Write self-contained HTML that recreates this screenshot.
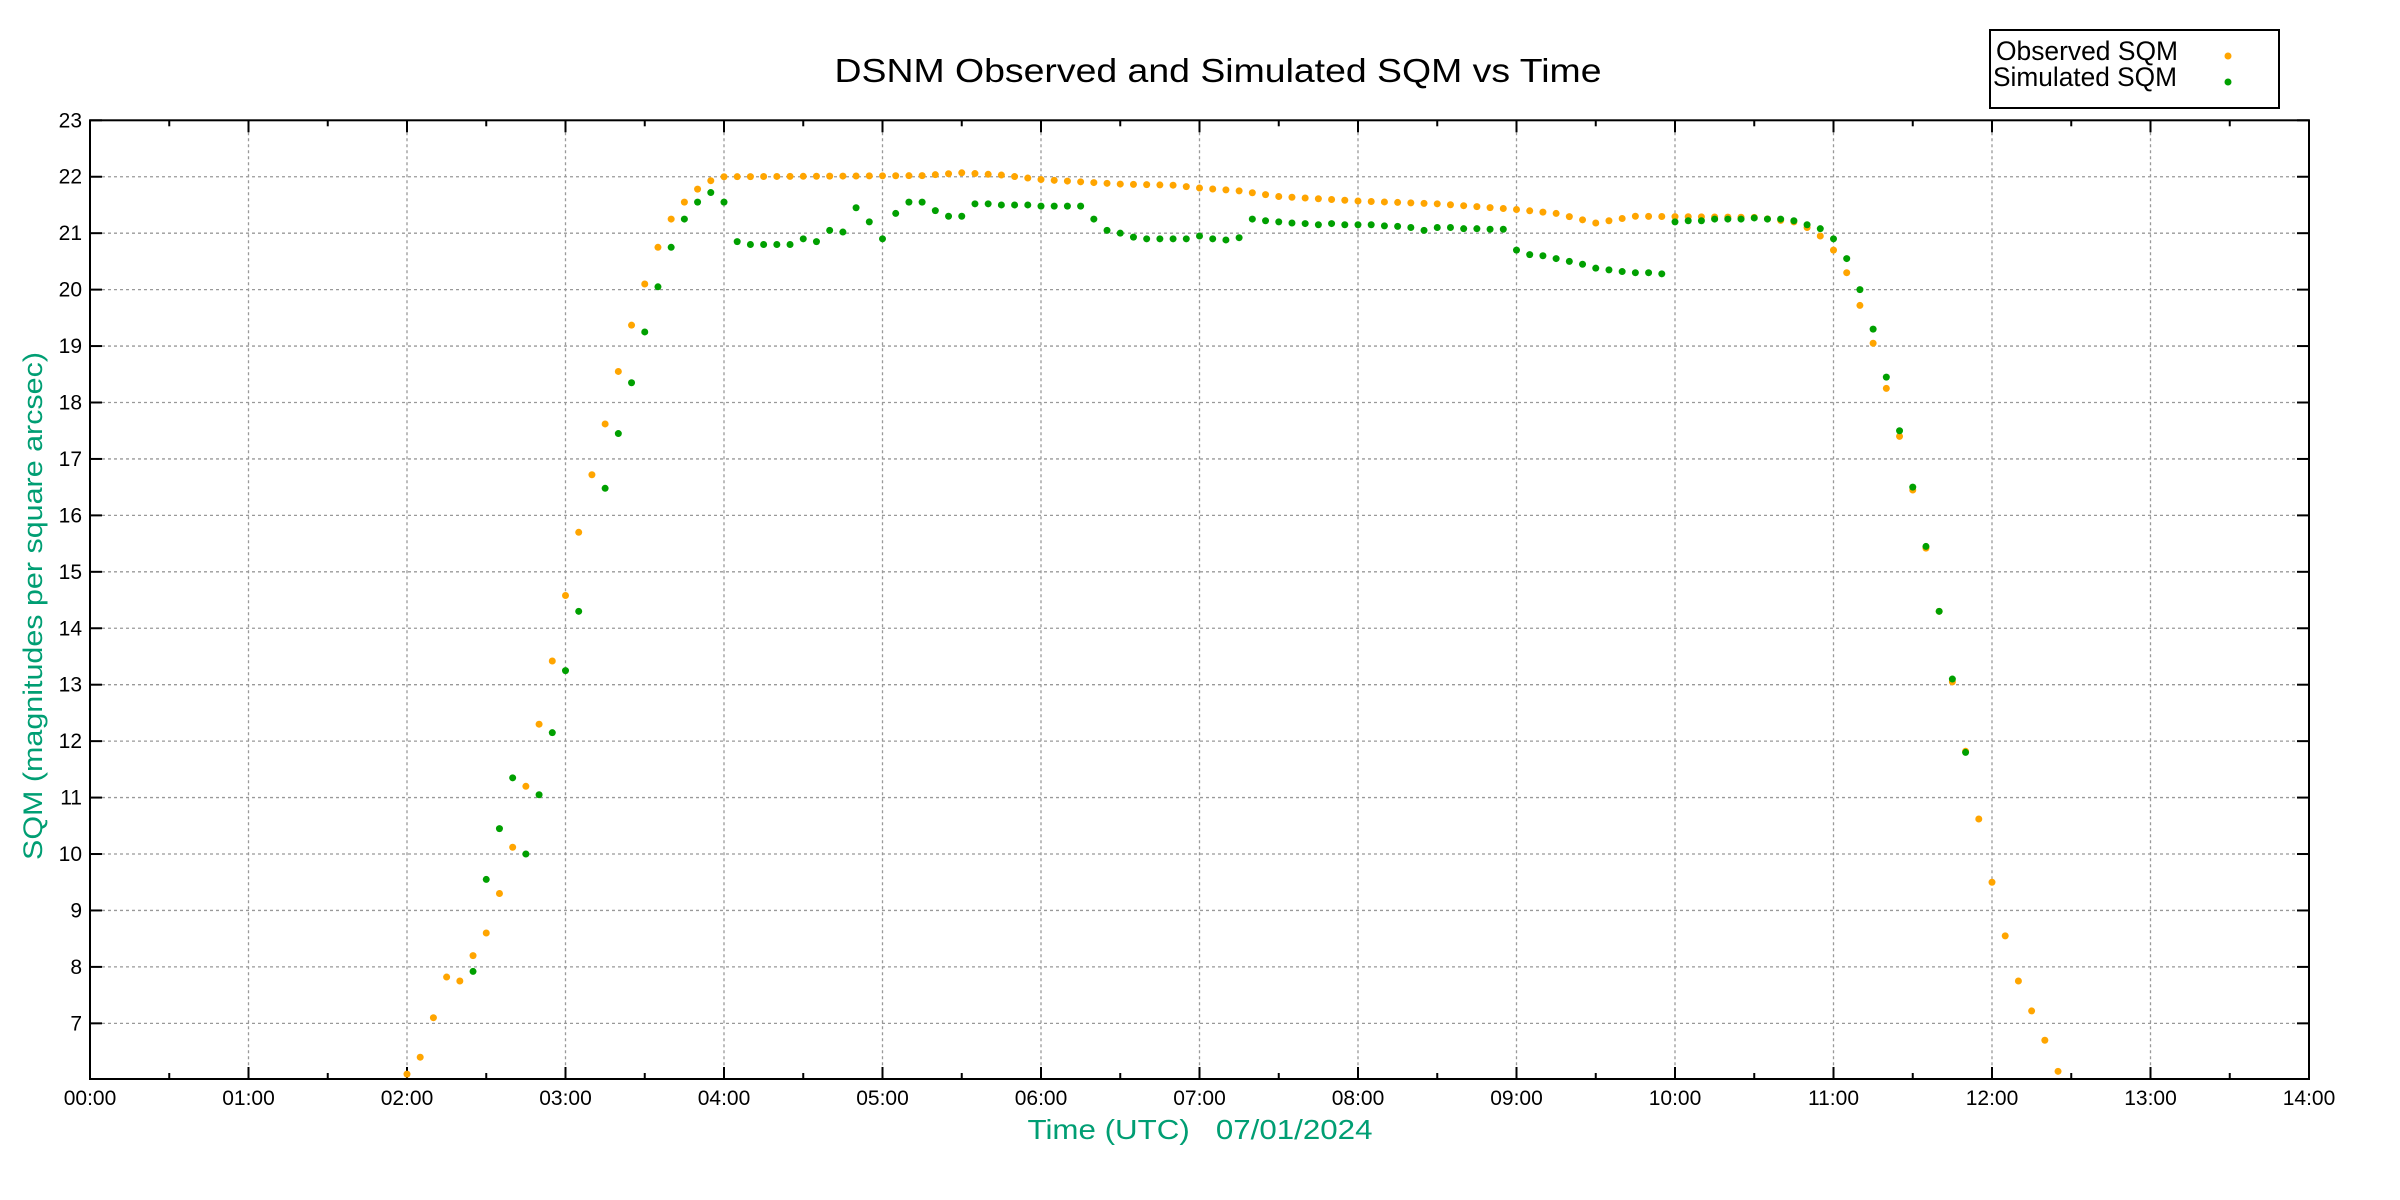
<!DOCTYPE html>
<html><head><meta charset="utf-8"><style>html,body{margin:0;padding:0;background:#fff}svg{display:block}</style></head>
<body>
<svg id="s" width="2400" height="1200" xmlns="http://www.w3.org/2000/svg" font-family="Liberation Sans, sans-serif">
<rect width="2400" height="1200" fill="#fff"/>
<text x="1218" y="82" font-size="33" text-anchor="middle" textLength="767" lengthAdjust="spacingAndGlyphs">DSNM Observed and Simulated SQM vs Time</text>
<g id="grid"></g>
<rect x="90" y="120.3" width="2219" height="958.7" fill="none" stroke="#000" stroke-width="2"/>
<g id="ticks"></g>
<g id="pts"></g>
<text x="1200" y="1139" font-size="28" fill="#009e73" text-anchor="middle" textLength="345" lengthAdjust="spacingAndGlyphs" style="white-space:pre" xml:space="preserve">Time (UTC)   07/01/2024</text>
<text transform="translate(42,606) rotate(-90)" font-size="27" fill="#009e73" text-anchor="middle" textLength="508" lengthAdjust="spacingAndGlyphs">SQM (magnitudes per square arcsec)</text>
<rect x="1990" y="30" width="289" height="78" fill="#fff" stroke="#000" stroke-width="2"/>
<text x="1996" y="60" font-size="26.5" textLength="182" lengthAdjust="spacingAndGlyphs">Observed SQM</text>
<text x="1993" y="86" font-size="26.5" textLength="184" lengthAdjust="spacingAndGlyphs">Simulated SQM</text>
<circle cx="2228" cy="56" r="3.5" fill="#ffa500"/>
<circle cx="2228" cy="82" r="3.5" fill="#00a000"/>
</svg>
<script>
var NS="http://www.w3.org/2000/svg",X0=90,HW=158.5,Y23=120.3,U=56.44,YB=1079;
function X(h){return X0+h*HW}function Y(v){return Y23+(23-v)*U}
function el(p,t,a,txt){var e=document.createElementNS(NS,t);for(var k in a)e.setAttribute(k,a[k]);if(txt)e.textContent=txt;document.getElementById(p).appendChild(e);return e}
for(var h=1;h<14;h++)el('grid','line',{x1:X(h),x2:X(h),y1:Y23,y2:YB,stroke:'#999','stroke-dasharray':'3,3','stroke-width':1.3});
for(var v=7;v<=22;v++)el('grid','line',{x1:X0,x2:2309,y1:Y(v),y2:Y(v),stroke:'#999','stroke-dasharray':'3,3','stroke-width':1.3});
for(var i=0;i<=28;i++){var h=i/2,l=(i%2==0)?12:6;
 el('ticks','line',{x1:X(h),x2:X(h),y1:YB,y2:YB-l,stroke:'#000','stroke-width':2});
 el('ticks','line',{x1:X(h),x2:X(h),y1:Y23,y2:Y23+l,stroke:'#000','stroke-width':2});
 if(i%2==0){var s=(h<10?'0':'')+h+':00';el('ticks','text',{x:X(h),y:1105,'font-size':21,'text-anchor':'middle'},s);}}
for(var v=7;v<=23;v++){
 el('ticks','line',{x1:X0,x2:X0+12,y1:Y(v),y2:Y(v),stroke:'#000','stroke-width':2});
 el('ticks','line',{x1:2309,x2:2297,y1:Y(v),y2:Y(v),stroke:'#000','stroke-width':2});
 el('ticks','text',{x:82,y:Y(v)+7,'font-size':21,'text-anchor':'end'},''+v);}
function m(t){var p=t.split(':');return +p[0]+p[1]/60}
var obs=[["2:00",6.1],["2:05",6.4],["2:10",7.1],["2:15",7.82],["2:20",7.75],["2:25",8.2],["2:30",8.6],["2:35",9.3],["2:40",10.12],["2:45",11.2],["2:50",12.3],["2:55",13.42],["3:00",14.58],["3:05",15.7],["3:10",16.72],["3:15",17.62],["3:20",18.55],["3:25",19.37],["3:30",20.1],["3:35",20.75],["3:40",21.25],["3:45",21.55],["3:50",21.78],["3:55",21.93]];
var key=[["4:00",22.0],["5:15",22.02],["5:30",22.07],["5:45",22.03],["6:00",21.95],["6:30",21.87],["6:50",21.85],["7:00",21.8],["7:15",21.75],["7:30",21.65],["8:00",21.57],["8:30",21.52],["9:00",21.42],["9:15",21.35],["9:30",21.18],["9:35",21.22],["9:45",21.3],["10:30",21.28],["10:45",21.2]].map(function(p){return [m(p[0]),p[1]]});
for(var t=4;t<10.76;t+=1/12){for(var k=0;k<key.length-1;k++){if(t>=key[k][0]-1e-6&&t<=key[k+1][0]+1e-6){var f=(t-key[k][0])/(key[k+1][0]-key[k][0]);obs.push([t,key[k][1]+f*(key[k+1][1]-key[k][1])]);break;}}}
[["10:50",21.1],["10:55",20.95],["11:00",20.7],["11:05",20.3],["11:10",19.72],["11:15",19.05],["11:20",18.25],["11:25",17.4],["11:30",16.45],["11:35",15.42],["11:40",14.3],["11:45",13.05],["11:50",11.82],["11:55",10.62],["12:00",9.5],["12:05",8.55],["12:10",7.75],["12:15",7.22],["12:20",6.7],["12:25",6.15]].forEach(function(p){obs.push(p)});
var sim=[["2:25",7.92],["2:30",9.55],["2:35",10.45],["2:40",11.35],["2:45",10.0],["2:50",11.05],["2:55",12.15],["3:00",13.25],["3:05",14.3],["3:15",16.48],["3:20",17.45],["3:25",18.35],["3:30",19.25],["3:35",20.05],["3:40",20.75],["3:45",21.25],["3:50",21.55],["3:55",21.72],["4:00",21.55]];
var s2=[20.85,20.8,20.8,20.8,20.8,20.9,20.85,21.05,21.02,21.45,21.2,20.9,21.35,21.55,21.55,21.4,21.3,21.3,21.52,21.52,21.5,21.5,21.5,21.48,21.48,21.48,21.48,21.25,21.05,21.0,20.93,20.9,20.9,20.9,20.9,20.95,20.9,20.88,20.92,21.25,21.22,21.2,21.18,21.17,21.15,21.17,21.15,21.15,21.15,21.13,21.12,21.1,21.05,21.1,21.1,21.08,21.08,21.07,21.07,20.7,20.62,20.6,20.55,20.5,20.45,20.38,20.35,20.32,20.3,20.3,20.28,21.2,21.22,21.22,21.25,21.25,21.25,21.27,21.25,21.25,21.22,21.15,21.08,20.9,20.55,20.0,19.3,18.45,17.5,16.5,15.45,14.3,13.1,11.8];
s2.forEach(function(v,i){sim.push([4+(i+1)/12,v])});
obs.forEach(function(p){var h=typeof p[0]=='string'?m(p[0]):p[0];el('pts','circle',{cx:X(h),cy:Y(p[1]),r:3.5,fill:'#ffa500'})});
sim.forEach(function(p){var h=typeof p[0]=='string'?m(p[0]):p[0];el('pts','circle',{cx:X(h),cy:Y(p[1]),r:3.5,fill:'#00a000'})});
</script>
</body></html>
